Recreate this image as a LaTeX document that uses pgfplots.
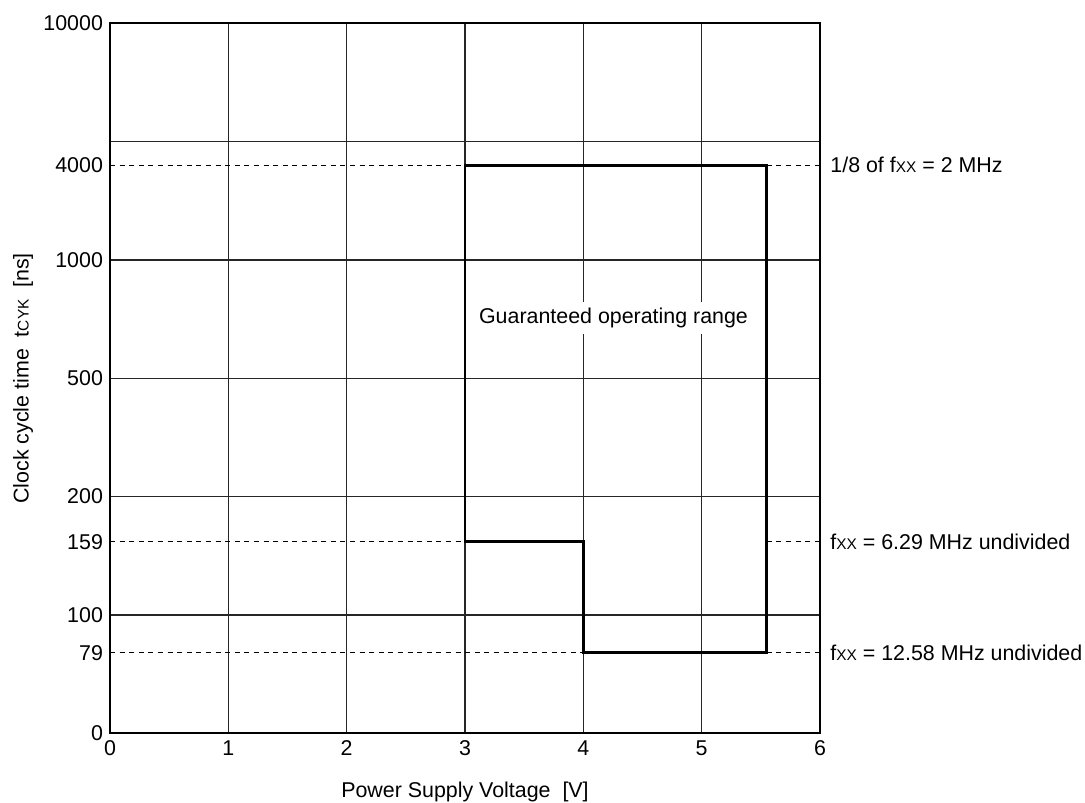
\documentclass[border=0pt]{standalone}
\usepackage{fontspec}
\setmainfont{Liberation Sans}
\usepackage{pgfplots}
\pgfplotsset{compat=1.18}
\newcommand{\sub}[1]{{\fontsize{7.7}{9}\selectfont #1}}
\begin{document}
\begin{tikzpicture}
\useasboundingbox (-55pt,-34.35pt) rectangle (487.5pt,366.65pt);
\begin{axis}[
  at={(0,0)}, anchor=south west,
  scale only axis, width=355pt, height=355pt,
  xmin=0, xmax=6, ymin=0, ymax=6,
  font=\fontsize{10.7}{12.8}\selectfont,
  /pgf/number format/assume math mode=true,
  xtick={0,1,2,3,4,5,6},
  ytick={0,1,2,3,4,5,6},
  yticklabels={0,100,200,500,1000,,10000},
  extra y ticks={0.681,1.619,4.80},
  extra y tick labels={79,159,4000},
  extra y tick style={grid=none},
  major tick length=0pt,
  grid=major,
  major grid style={black!85, line width=0.55pt},
  axis line style={line width=0.8pt},
  xlabel={Power Supply Voltage\ \ [V]},
  ylabel={Clock cycle time\ \ t\sub{CYK}\ \ [ns]},
  every axis x label/.style={at={(axis description cs:0.5,-0.082)}, anchor=center},
  every axis y label/.style={at={(axis description cs:-0.1225,0.5)}, rotate=90, anchor=center},
  clip=false,
]
\addplot[black, line width=1.3pt, line join=miter] coordinates {
  (3,4.80) (5.55,4.80) (5.55,0.681) (4,0.681) (4,1.619) (3,1.619) (3,4.80)
} -- cycle;
\addplot[black, line width=0.55pt, dash pattern=on 2.5pt off 2.3pt] coordinates {(0,4.80) (3,4.80)};
\addplot[black, line width=0.55pt, dash pattern=on 2.5pt off 2.3pt] coordinates {(5.55,4.80) (6,4.80)};
\addplot[black, line width=0.55pt, dash pattern=on 2.5pt off 2.3pt] coordinates {(0,1.619) (3,1.619)};
\addplot[black, line width=0.55pt, dash pattern=on 2.5pt off 2.3pt] coordinates {(5.55,1.619) (6,1.619)};
\addplot[black, line width=0.55pt, dash pattern=on 2.5pt off 2.3pt] coordinates {(0,0.681) (4,0.681)};
\addplot[black, line width=0.55pt, dash pattern=on 2.5pt off 2.3pt] coordinates {(5.55,0.681) (6,0.681)};
\node[fill=white, inner xsep=2pt, inner ysep=3pt] at (axis cs:4.255,3.51) {Guaranteed operating range};
\node[anchor=west, inner sep=0pt, xshift=5pt] at (axis cs:6,4.80) {1/8 of f\sub{XX} = 2 MHz};
\node[anchor=west, inner sep=0pt, xshift=5pt] at (axis cs:6,1.619) {f\sub{XX} = 6.29 MHz undivided};
\node[anchor=west, inner sep=0pt, xshift=5pt] at (axis cs:6,0.681) {f\sub{XX} = 12.58 MHz undivided};
\end{axis}
\end{tikzpicture}
\end{document}
